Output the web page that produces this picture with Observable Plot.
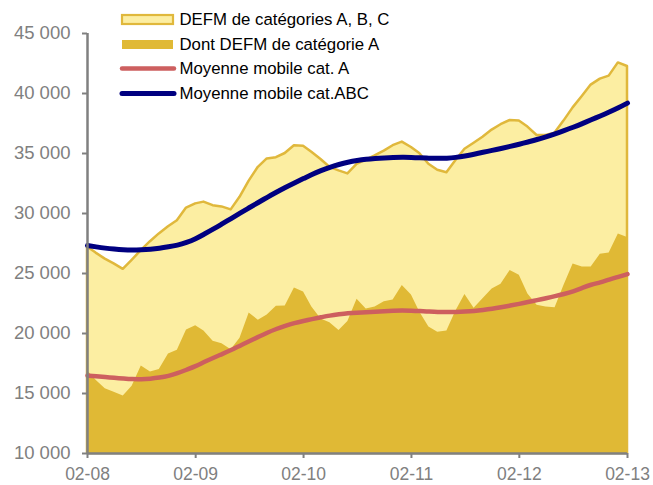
<!DOCTYPE html>
<html>
<head>
<meta charset="utf-8">
<script src="https://cdn.jsdelivr.net/npm/d3@7"></script>
<script src="https://cdn.jsdelivr.net/npm/@observablehq/plot@0.6"></script>
<style>
  html, body { margin: 0; padding: 0; background: #fff; }
  #wrap { position: relative; width: 653px; height: 485px; }
  #legend { position: absolute; left: 0; top: 0; }
</style>
</head>
<body>
<div id="wrap"></div>
<script>
// Monthly series, Feb 2008 -> Feb 2013
const startYear = 2008, startMonth = 1;
const abcValues = [
  27200, 26700, 26200, 25800, 25350, 26100, 26900, 27650, 28300, 28900, 29400, 30450,
  30800, 30950, 30650, 30550, 30300, 31350, 32700, 33850, 34550, 34650, 35000, 35650,
  35600, 35100, 34500, 33850, 33550, 33300, 34100, 34450, 34800, 35200, 35650, 35950,
  35500, 35000, 34100, 33600, 33400, 34400, 35350, 35850, 36350, 36950, 37400, 37750,
  37700, 37200, 36500, 36500, 36700, 37700, 38800, 39750, 40700, 41200, 41450, 42550,
  42250
];
const aValues = [
  16900, 16100, 15400, 15100, 14800, 15600, 17300, 16800, 17000, 18300, 18600, 20300,
  20650, 20200, 19350, 19150, 18650, 19600, 21700, 21100, 21550, 22280, 22300, 23800,
  23450, 22200, 21200, 20900, 20250, 21000, 22850, 22050, 22200, 22650, 22800, 24000,
  23200, 21800, 20550, 20100, 20200, 21850, 23250, 22100, 22900, 23700, 24100, 25250,
  24850, 23300, 22350, 22200, 22150, 24000, 25800, 25550, 25550, 26600, 26700, 28300,
  28000
];
const maA = [
  16500, 16430, 16370, 16310, 16250, 16190, 16180, 16230, 16320, 16450, 16680, 16980,
  17270, 17620, 17970, 18280, 18610, 18990, 19360, 19720, 20070, 20380, 20650, 20880,
  21050, 21200, 21350, 21500, 21600, 21690, 21740, 21780, 21820, 21860, 21900, 21920,
  21900, 21870, 21830, 21790, 21780, 21800, 21830, 21870, 21950, 22050, 22180, 22330,
  22470, 22620, 22780, 22940, 23110, 23290, 23500, 23800, 24080, 24250, 24500, 24720,
  24950
];
const maABC = [
  27330, 27220, 27110, 27030, 26970, 26950, 26970, 27020, 27100, 27220, 27350, 27580,
  27890, 28270, 28690, 29130, 29580, 30030, 30480, 30920, 31350, 31770, 32170, 32550,
  32910, 33260, 33580, 33860, 34090, 34280, 34420, 34520, 34580, 34630, 34670, 34690,
  34680, 34650, 34610, 34590, 34600, 34670, 34790, 34940, 35100, 35260, 35420, 35590,
  35770, 35960, 36160, 36390, 36640, 36900, 37180, 37490, 37810, 38130, 38450, 38800,
  39200
];
const xTickYears = [2008, 2009, 2010, 2011, 2012, 2013];
const yTicks = [10000, 15000, 20000, 25000, 30000, 35000, 40000, 45000];
const legendLabels = [
  "DEFM de catégories A, B, C",
  "Dont DEFM de catégorie A",
  "Moyenne mobile cat. A",
  "Moyenne mobile cat.ABC"
];

const colLight = "#FCEEA2", colGold = "#E0B935", colBorder = "#E0B83C",
      colRed = "#CD5F5F", colNavy = "#000080", colAxis = "#808080";

const data = abcValues.map((v, i) => ({
  date: new Date(Date.UTC(startYear, startMonth + i, 1)),
  abc: v, a: aValues[i], maA: maA[i], maABC: maABC[i]
}));
const xTicks = xTickYears.map(y => new Date(Date.UTC(y, 1, 1)));
const fmtY = d => d3.format(",")(d).replace(/,/g, " ");
const fmtX = d3.utcFormat("%m-%y");

const chart = Plot.plot({
  width: 653,
  height: 485,
  marginLeft: 87,
  marginRight: 26,
  marginTop: 33,
  marginBottom: 32,
  style: {
    fontFamily: "'Liberation Sans', Arial, sans-serif",
    fontSize: "18.5px",
    color: colAxis,
    background: "#fff"
  },
  x: { type: "utc", domain: [xTicks[0], xTicks[xTicks.length - 1]] },
  y: { domain: [10000, 45000] },
  marks: [
    Plot.areaY(data, { x: "date", y1: 10000, y2: "abc", fill: colLight, stroke: colBorder, strokeWidth: 2.5, strokeLinejoin: "round" }),
    Plot.areaY(data, { x: "date", y1: 10000, y2: "a", fill: colGold }),
    Plot.lineY(data, { x: "date", y: "maA", stroke: colRed, strokeWidth: 4.5, curve: "basis" }),
    Plot.lineY(data, { x: "date", y: "maABC", stroke: colNavy, strokeWidth: 5, curve: "basis" }),
    Plot.ruleX([xTicks[0]], { stroke: colAxis, strokeWidth: 2.5 }),
    Plot.ruleY([10000], { stroke: colAxis, strokeWidth: 2.5 }),
    Plot.axisY({ ticks: yTicks, tickFormat: fmtY, tickSize: 5, tickPadding: 12, strokeWidth: 2, label: null, fill: colAxis }),
    Plot.axisX({ ticks: xTicks, tickFormat: fmtX, tickSize: 5, tickPadding: 9, strokeWidth: 2, label: null, fill: colAxis, fontSize: 17.5 })
  ]
});

const wrap = document.getElementById("wrap");
wrap.appendChild(chart);

// Legend overlay
const ns = "http://www.w3.org/2000/svg";
const leg = document.createElementNS(ns, "svg");
leg.setAttribute("id", "legend");
leg.setAttribute("width", 653);
leg.setAttribute("height", 110);
const rowY = [19.5, 44.5, 68.5, 93.5];
const sw = [
  { type: "rect", fill: colLight, stroke: colBorder },
  { type: "rect", fill: colGold, stroke: null },
  { type: "line", stroke: colRed, w: 4.5 },
  { type: "line", stroke: colNavy, w: 5 }
];
legendLabels.forEach((lab, i) => {
  const y = rowY[i], s = sw[i];
  let el;
  if (s.type === "rect") {
    el = document.createElementNS(ns, "rect");
    el.setAttribute("x", 122); el.setAttribute("y", y - 4.5);
    el.setAttribute("width", 51); el.setAttribute("height", 9);
    el.setAttribute("fill", s.fill);
    if (s.stroke) { el.setAttribute("stroke", s.stroke); el.setAttribute("stroke-width", 2.2); }
  } else {
    el = document.createElementNS(ns, "line");
    el.setAttribute("x1", 122); el.setAttribute("x2", 174);
    el.setAttribute("y1", y); el.setAttribute("y2", y);
    el.setAttribute("stroke", s.stroke); el.setAttribute("stroke-width", s.w);
    el.setAttribute("stroke-linecap", "round");
  }
  leg.appendChild(el);
  const t = document.createElementNS(ns, "text");
  t.setAttribute("x", 179.5);
  t.setAttribute("y", y + 1.5);
  t.setAttribute("dominant-baseline", "middle");
  t.setAttribute("font-family", "'Liberation Sans', Arial, sans-serif");
  t.setAttribute("font-size", "16.8px");
  t.setAttribute("fill", "#000");
  t.textContent = lab;
  leg.appendChild(t);
});
wrap.appendChild(leg);
</script>
</body>
</html>
